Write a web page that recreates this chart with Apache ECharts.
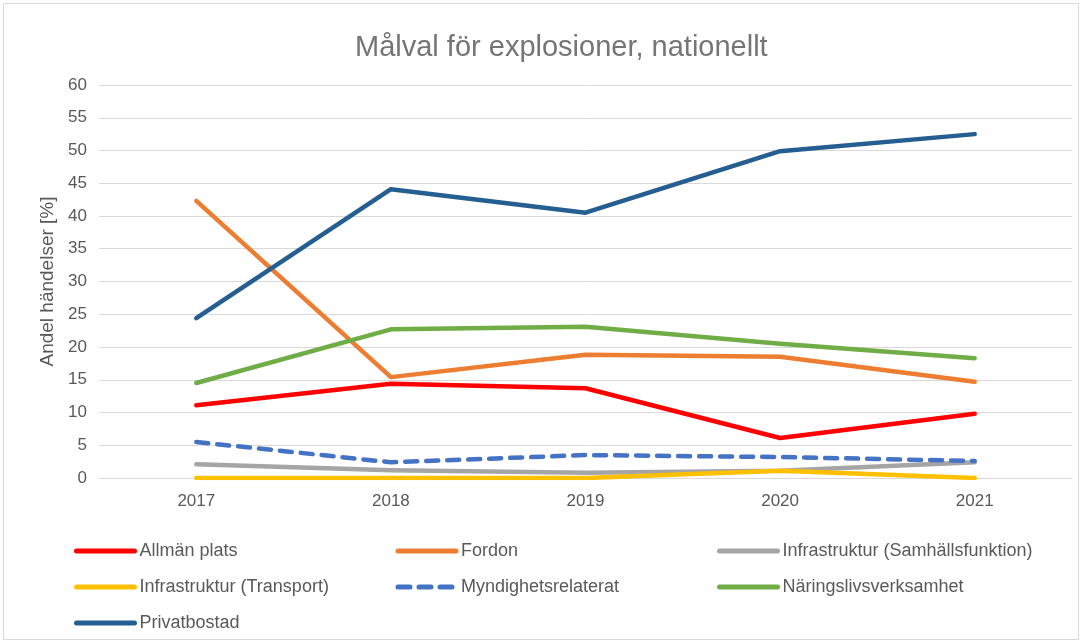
<!DOCTYPE html>
<html>
<head>
<meta charset="utf-8">
<script src="https://cdn.jsdelivr.net/npm/echarts@6/dist/echarts.min.js"></script>
<style>
  html, body { margin: 0; padding: 0; background: #fff; }
  #chart { width: 1082px; height: 643px; }
</style>
</head>
<body>
<div id="chart"></div>
<script>
const years = ['2017', '2018', '2019', '2020', '2021']

const allmanPlats = [11.1, 14.4, 13.7, 6.1, 9.8]
const fordon = [42.3, 15.4, 18.8, 18.5, 14.7]
const infraSamhall = [2.1, 1.2, 0.8, 1.1, 2.4]
const infraTransport = [0, 0, 0, 1.1, 0]
const myndighet = [5.5, 2.4, 3.5, 3.2, 2.6]
const naringsliv = [14.5, 22.7, 23.1, 20.5, 18.3]
const privatbostad = [24.4, 44.1, 40.5, 49.9, 52.5]

const seriesDefs = [
  { name: 'Allmän plats', data: allmanPlats, color: '#FF0000' },
  { name: 'Fordon', data: fordon, color: '#ED7D31' },
  { name: 'Infrastruktur (Samhällsfunktion)', data: infraSamhall, color: '#A5A5A5' },
  { name: 'Infrastruktur (Transport)', data: infraTransport, color: '#FFC000' },
  { name: 'Myndighetsrelaterat', data: myndighet, color: '#4472C4', dash: [12, 9] },
  { name: 'Näringslivsverksamhet', data: naringsliv, color: '#70AD47' },
  { name: 'Privatbostad', data: privatbostad, color: '#255E91' }
]

const font = '"Liberation Sans", "DejaVu Sans", sans-serif'
const textGray = '#595959'

const chart = echarts.init(document.getElementById('chart'), null, { renderer: 'canvas' })
chart.setOption({
  backgroundColor: '#fff',
  animation: false,
  textStyle: { fontFamily: font },
  title: {
    text: 'Målval för explosioner, nationellt',
    left: 350,
    top: 28,
    textStyle: { color: '#757575', fontSize: 29, fontWeight: 'normal', fontFamily: font }
  },
  graphic: [{
    type: 'rect',
    shape: { x: 3.5, y: 3.5, width: 1075, height: 636 },
    style: { fill: 'none', stroke: '#D9D9D9', lineWidth: 1 },
    silent: true
  }],
  legend: {
    left: 69,
    top: 528,
    width: 1010,
    itemGap: 0,
    itemWidth: 58,
    itemHeight: 14,
    itemStyle: { opacity: 0 },
    lineStyle: { width: 5, cap: 'round' },
    textStyle: { color: textGray, fontSize: 18, width: 256, lineHeight: 36, fontFamily: font },
    data: seriesDefs.map((s) => s.name)
  },
  grid: { left: 99, right: 10, top: 85, bottom: 165 },
  xAxis: {
    type: 'category',
    data: years,
    boundaryGap: true,
    axisLine: { lineStyle: { color: '#D9D9D9', width: 1 } },
    axisTick: { show: false },
    axisLabel: { color: textGray, fontSize: 17, margin: 15 }
  },
  yAxis: {
    type: 'value',
    min: 0,
    max: 60,
    interval: 5,
    name: 'Andel händelser [%]',
    nameLocation: 'middle',
    nameGap: 41,
    nameTextStyle: { color: textGray, fontSize: 19 },
    axisLine: { show: false },
    axisTick: { show: false },
    axisLabel: { color: textGray, fontSize: 17, margin: 12 },
    splitLine: { lineStyle: { color: '#D9D9D9', width: 1 } }
  },
  series: seriesDefs.map((s) => ({
    name: s.name,
    type: 'line',
    data: s.data,
    symbol: 'none',
    color: s.color,
    lineStyle: { color: s.color, width: 4.5, type: s.dash || 'solid', cap: 'round', join: 'round' }
  }))
})
</script>
</body>
</html>
